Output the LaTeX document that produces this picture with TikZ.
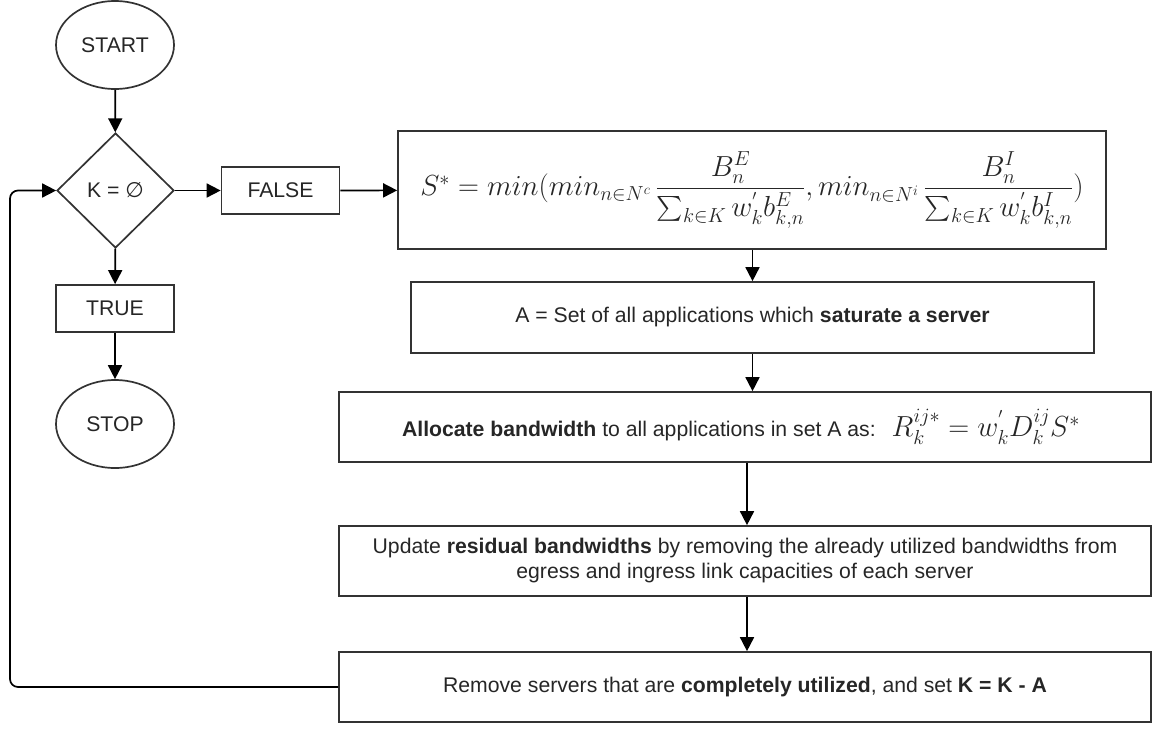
\RequirePackage{fix-cm}
\documentclass[tikz,border=0pt]{standalone}
\usepackage{amsmath}
\usepackage{fontspec}
\setmainfont{Liberation Sans}
\newfontfamily\symfont{DejaVu Sans}
\usetikzlibrary{shapes.geometric,arrows.meta}

\begin{document}
\begin{tikzpicture}[x=1pt,y=-1pt,
  every node/.style={font=\fontsize{21.2}{25}\selectfont, text=black!85},
  box/.style={draw=black!80, line width=1.7pt, rectangle, inner sep=0pt, align=center},
  term/.style={draw=black!80, line width=1.7pt, ellipse, minimum width=118pt, minimum height=88pt, inner sep=0pt},
  decision/.style={draw=black!80, line width=1.7pt, diamond, minimum width=117pt, minimum height=115pt, inner sep=0pt},
  flow/.style={-{Triangle[length=14pt,width=14pt]}, line width=1.7pt, black},
  mathtxt/.style={font=\fontsize{29}{34}\selectfont}
]
\useasboundingbox (0,0) rectangle (1153,729);

% left column: start, decision, outcomes
\node[term] (start) at (115,45) {START};
\node[decision] (dec) at (115.5,190.5) {K = {\symfont ∅}};
\node[box, minimum width=118pt, minimum height=47pt] (false) at (280.5,190.5) {FALSE};
\node[box, minimum width=118pt, minimum height=47pt] (true) at (115,308.5) {TRUE};
\node[term] (stop) at (115,424) {STOP};

% right column: allocation steps
\node[box, minimum width=708pt, minimum height=118pt, mathtxt] (sstar) at (752,190)
  {$S^* = min(min_{n\in N^c}\,\dfrac{B_n^E}{\sum_{k\in K} w^{'}_k b^E_{k,n}}, min_{n\in N^i}\,\dfrac{B_n^I}{\sum_{k\in K} w^{'}_k b^I_{k,n}})$};
\node[box, minimum width=683pt, minimum height=71pt] (aset) at (752.5,317.5)
  {A = Set of all applications which \textbf{saturate a server}};
\node[box, minimum width=812pt, minimum height=70pt] (alloc) at (745,427)
  {\hspace*{-8pt}\textbf{Allocate bandwidth} to all applications in set A as:\hspace{16pt}{\fontsize{29}{34}\selectfont$R_k^{ij*} = w^{'}_k D_k^{ij} S^*$}};
\node[box, minimum width=812pt, minimum height=70pt] (upd) at (745,561)
  {Update \textbf{residual bandwidths} by removing the already utilized bandwidths from\\egress and ingress link capacities of each server};
\node[box, minimum width=812pt, minimum height=70pt] (rem) at (745,687)
  {Remove servers that are \textbf{completely utilized}, and set \textbf{K = K - A}};

% connectors
\draw[flow] (start) -- (dec);
\draw[flow] (dec) -- (true);
\draw[flow] (true) -- (stop);
\draw[flow] (dec) -- (false);
\draw[flow] (false) -- (sstar);
\draw[flow] (sstar.south -| aset.north) -- (aset.north);
\draw[flow] (aset.south) -- (aset.south |- alloc.north);
\draw[flow] ([xshift=2pt]alloc.south) -- ([xshift=2pt]upd.north);
\draw[flow] ([xshift=2pt]upd.south) -- ([xshift=2pt]rem.north);
\coordinate (loopx) at (10,0);
\draw[flow, rounded corners=8pt] (rem.west) -| (loopx |- dec.west) -- (dec.west);
\end{tikzpicture}
\end{document}
